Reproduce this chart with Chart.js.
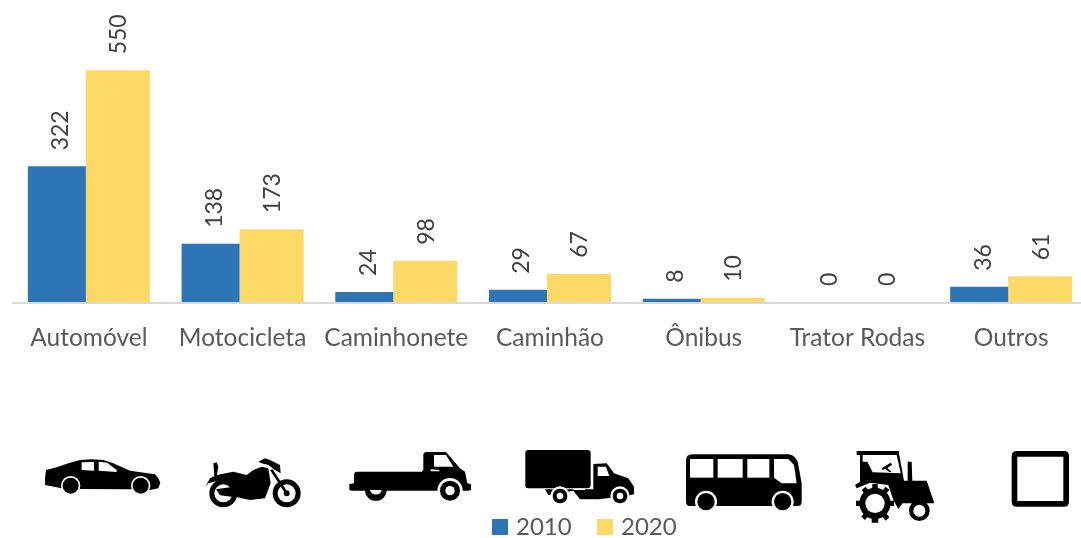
<!DOCTYPE html>
<html>
<head>
<meta charset="utf-8">
<script src="https://cdn.jsdelivr.net/npm/chart.js@4"></script>
<style>
  html, body { margin: 0; padding: 0; background: #fff; overflow: hidden; }
  #chart { display: block; }
</style>
</head>
<body>
<canvas id="chart" width="1085" height="538"></canvas>
<script>
const categories = ['Automóvel', 'Motocicleta', 'Caminhonete', 'Caminhão', 'Ônibus', 'Trator Rodas', 'Outros'];
const values2010 = [322, 138, 24, 29, 8, 0, 36];
const values2020 = [550, 173, 98, 67, 10, 0, 61];
const seriesNames = ['2010', '2020'];
const seriesColors = ['#2E75B6', '#FFD966'];

const fontFamily = 'Lato, "Open Sans", sans-serif';

// silhouettes, in 3x crop coordinates: [originX, originY, layers]
const icons = [
  [20, 440, [
    ['#000', 'M78 90L110 82 145 70 180 60 215 58 250 60 280 70 330 92 405 103 415 115 421 128 415 145 390 150 335 148 180 147 125 145 75 135 75 115Z'],
    ['#fff', circle(152, 137, 29) + circle(362, 137, 29)],
    ['#000', circle(152, 137, 24) + circle(362, 137, 24)],
    ['#fff', 'M185 67L222 66 222 92 185 90ZM236 65L262 68 290 90 290 96 236 92Z']
  ]],
  [20, 440, [
    ['#000', circle(610, 160, 42) + circle(800, 160, 42)],
    ['#fff', circle(610, 160, 27) + circle(800, 160, 27)],
    ['#000', circle(800, 160, 9) +
      'M556 140L570 115 590 105 640 95 680 105 700 90 725 80 745 85 752 130 735 175 690 180 645 170 640 135 600 120 565 130Z' +
      'M580 70L590 67 595 80 590 108 583 108ZM715 65L735 55 750 60 780 75 782 100 765 90 745 75 725 70Z' +
      'M750 90L758 88 802 155 795 160ZM588 148L640 140 645 172 600 166Z']
  ]],
  [340, 440, [
    ['#000', 'M42 105Q42 95 52 95L245 95 250 90 250 45Q250 36 260 36L318 36 360 85 375 95 382 130 393 132 393 150 385 152 36 152 28 150 28 132 42 130Z' +
      'M75 150L140 150A32 32 0 0 1 75 150Z'],
    ['#fff', 'M282 45L318 45 340 80 282 80ZM272 88L298 90 298 94 272 94ZM90 150L125 150A18 18 0 0 1 90 150Z' + circle(330, 152, 38)],
    ['#000', circle(330, 152, 30)],
    ['#fff', circle(330, 152, 14)]
  ]],
  [340, 440, [
    ['#000', 'M565 30L742 30Q752 30 752 40L752 135Q752 145 742 145L565 145Q556 145 556 135L556 40Q556 30 565 30Z' +
      'M760 72L800 70 822 100 865 115 882 140 882 163 860 168 775 178 720 178 700 152 625 165 615 148 760 148Z'],
    ['#fff', 'M773 80L798 80 808 108 773 108ZM700 146L735 146 735 150 700 150Z' + circle(660, 168, 29) + circle(840, 168, 29)],
    ['#000', circle(660, 168, 22) + circle(840, 168, 22)],
    ['#fff', circle(660, 168, 10) + circle(840, 168, 10)]
  ]],
  [680, 440, [
    ['#000', 'M38 43L325 43Q350 45 355 75L365 130 365 185Q365 198 352 198L30 198Q18 198 18 185L18 62Q18 43 38 43Z'],
    ['#fff', 'M30 57L100 57 100 113 30 113ZM113 57L188 57 188 113 113 113ZM202 57L268 57 268 113 202 113ZM282 57L325 57 342 75 350 130 305 130 282 113Z' +
      circle(78, 185, 33) + circle(308, 185, 33)],
    ['#000', circle(78, 185, 26) + circle(308, 185, 26)]
  ]],
  [680, 440, [
    ['#000', 'M530 33L657 33 657 45 530 45ZM540 45L548 45 548 65 562 65 578 97 662 100 650 45 658 45 672 122 683 122 683 65 695 65 697 122 740 122 763 190 668 190 655 207 640 180 625 135 570 128 530 145 525 135 540 125Z' +
      'M605 85L632 68 636 74 622 84 635 96 628 96 615 86 608 90Z' + circle(585, 190, 47) +
      'M577 132L593 132 595 248 575 248ZM528 182L642 182 642 198 528 198ZM545 150L557 140 628 232 617 242ZM617 140L628 150 555 240 544 230Z' + circle(718, 212, 31)],
    ['#fff', circle(585, 190, 29) + circle(718, 212, 18)]
  ]],
  [680, 440, [
    ['#000', 'M1010 33L1152 33Q1167 33 1167 48L1167 185Q1167 200 1152 200L1010 200Q995 200 995 185L995 48Q995 33 1010 33Z'],
    ['#fff', 'M1012 50L1150 50 1150 183 1012 183Z']
  ]]
];

function circle(cx, cy, r) {
  return `M${cx - r} ${cy}A${r} ${r} 0 1 0 ${cx + r} ${cy}A${r} ${r} 0 1 0 ${cx - r} ${cy}Z`;
}

const extrasPlugin = {
  id: 'extras',
  afterDatasetsDraw(chart) {
    const ctx = chart.ctx;
    const baseY = chart.scales.y.getPixelForValue(0);

    // axis line
    ctx.save();
    ctx.strokeStyle = '#d9d9d9';
    ctx.lineWidth = 2;
    ctx.beginPath();
    ctx.moveTo(12, baseY + 1);
    ctx.lineTo(chart.width, baseY + 1);
    ctx.stroke();

    // rotated value labels
    const labelShift = [4, 1];
    ctx.fillStyle = '#404040';
    ctx.font = `23px ${fontFamily}`;
    ctx.textAlign = 'left';
    ctx.textBaseline = 'middle';
    chart.data.datasets.forEach((ds, i) => {
      chart.getDatasetMeta(i).data.forEach((bar, j) => {
        ctx.save();
        ctx.translate(bar.x + labelShift[i], bar.y - 16);
        ctx.rotate(-Math.PI / 2);
        ctx.fillText(String(ds.data[j]), 0, 0);
        ctx.restore();
      });
    });

    // vehicle icons, each piece filled alone so overlaps don't cancel out
    icons.forEach(([ox, oy, layers]) => {
      ctx.save();
      ctx.translate(ox, oy);
      ctx.scale(1 / 3, 1 / 3);
      layers.forEach(([color, d]) => {
        ctx.fillStyle = color;
        d.split(/(?=M)/).forEach(piece => ctx.fill(new Path2D(piece)));
      });
      ctx.restore();
    });

    // legend
    ctx.font = `24px ${fontFamily}`;
    ctx.textBaseline = 'middle';
    const legendX = [492, 597];
    chart.data.datasets.forEach((ds, i) => {
      ctx.fillStyle = ds.backgroundColor;
      ctx.fillRect(legendX[i], 519, 16, 16);
      ctx.fillStyle = '#595959';
      ctx.fillText(ds.label, legendX[i] + 24, 527);
    });
    ctx.restore();
  }
};

new Chart(document.getElementById('chart'), {
  type: 'bar',
  data: {
    labels: categories,
    datasets: [
      { label: seriesNames[0], data: values2010, backgroundColor: seriesColors[0], barThickness: 58, inflateAmount: 0 },
      { label: seriesNames[1], data: values2020, backgroundColor: seriesColors[1], barThickness: 64, inflateAmount: 0 }
    ]
  },
  options: {
    responsive: false,
    animation: false,
    layout: { padding: { left: 9, right: 0, top: 0, bottom: 0 } },
    plugins: { legend: { display: false }, tooltip: { enabled: false } },
    scales: {
      x: {
        afterFit(scale) { scale.height = 236; },
        grid: { display: false },
        border: { display: false },
        ticks: { color: '#595959', font: { family: fontFamily, size: 24.5 }, padding: 13, labelOffset: 3, maxRotation: 0, autoSkip: false }
      },
      y: {
        display: false,
        min: 0,
        max: 717
      }
    }
  },
  plugins: [extrasPlugin]
});
</script>
</body>
</html>
